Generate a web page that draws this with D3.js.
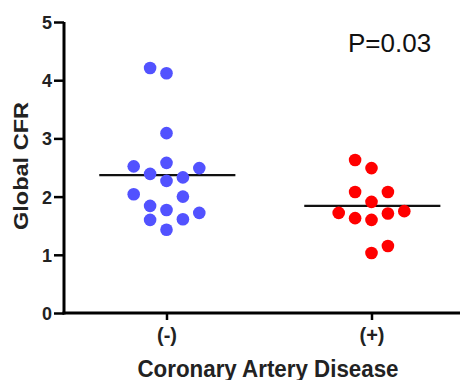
<!DOCTYPE html>
<html>
<head>
<meta charset="utf-8">
<script src="https://cdn.jsdelivr.net/npm/d3@7"></script>
<style>
  body { margin: 0; background: #fff; }
  svg { display: block; font-family: "Liberation Sans", Arial, sans-serif; }
</style>
</head>
<body>
<div id="chart"></div>
<script>
const groups = ['(-)', '(+)'];
const yTicks = [0, 1, 2, 3, 4, 5];

// Global CFR per patient, with beeswarm column slot (-2..2)
const negValues = [4.21, 4.12, 3.09, 2.52, 2.58, 2.49, 2.39, 2.27, 2.33, 2.04, 2.00, 1.84, 1.77, 1.72, 1.60, 1.61, 1.43];
const negSlots  = [-1,   0,    0,    -2,   0,    2,    -1,   0,    1,    -2,   1,    -1,   0,    2,    -1,   1,    0];
const posValues = [2.63, 2.49, 2.08, 2.08, 1.91, 1.72, 1.63, 1.60, 1.71, 1.75, 1.15, 1.03];
const posSlots  = [-1,   0,    -1,   1,    0,    -2,   -1,   0,    1,    2,    1,    0];
const means = [2.37, 1.84];
const colors = ['#5252ff', '#ff0000'];

const width = 460, height = 380;
const margin = { top: 22, left: 64, bottom: 67 };

const svg = d3.select('#chart').append('svg')
  .attr('width', width)
  .attr('height', height);

const x = d3.scalePoint()
  .domain(groups)
  .range([margin.left, 474])
  .padding(0.5);

const y = d3.scaleLinear()
  .domain([0, 5])
  .range([height - margin.bottom, margin.top]);

const slot = d3.scaleLinear().domain([0, 1]).range([0, 16.4]);

// y axis
const yAxis = svg.append('g')
  .attr('transform', `translate(${margin.left},0)`)
  .call(d3.axisLeft(y).tickValues(yTicks).tickFormat(d3.format('d')).tickSize(10).tickPadding(2));
yAxis.select('.domain')
  .style('stroke', '#000').style('stroke-width', '3px')
  .attr('d', `M0,${y(5)}V${y(0) + 1.5}`);
yAxis.selectAll('.tick line').style('stroke', '#000').style('stroke-width', '2.5px');
yAxis.selectAll('text')
  .attr('dy', '0.36em')
  .style('fill', '#222')
  .style('font-size', '18px')
  .style('font-weight', 'bold');

// x axis
const xAxis = svg.append('g')
  .attr('transform', `translate(0,${y(0)})`)
  .call(d3.axisBottom(x).tickSize(7).tickPadding(8));
xAxis.select('.domain')
  .style('stroke', '#000').style('stroke-width', '3px')
  .attr('d', `M${margin.left - 1.5},0H474`);
xAxis.selectAll('.tick line').style('stroke', '#000').style('stroke-width', '2.5px');
xAxis.selectAll('text')
  .style('fill', '#222')
  .style('font-size', '20px')
  .style('font-weight', 'bold');

// axis titles
svg.append('text')
  .attr('transform', `translate(28,166) rotate(-90)`)
  .attr('text-anchor', 'middle')
  .attr('textLength', 128)
  .attr('lengthAdjust', 'spacingAndGlyphs')
  .style('font-size', '20px')
  .style('font-weight', 'bold')
  .style('fill', '#222')
  .text('Global CFR');

svg.append('text')
  .attr('x', 268)
  .attr('y', 377)
  .attr('text-anchor', 'middle')
  .attr('textLength', 261)
  .attr('lengthAdjust', 'spacingAndGlyphs')
  .style('font-size', '23px')
  .style('font-weight', 'bold')
  .style('fill', '#222')
  .text('Coronary Artery Disease');

// mean lines
svg.selectAll('.mean')
  .data(means)
  .join('line')
  .attr('class', 'mean')
  .attr('x1', (d, i) => x(groups[i]) + slot(-4.1))
  .attr('x2', (d, i) => x(groups[i]) + slot(4.2))
  .attr('y1', d => y(d))
  .attr('y2', d => y(d))
  .attr('stroke', '#111')
  .attr('stroke-width', 2.2);

// dots
const sets = [
  { group: groups[0], values: negValues, slots: negSlots, color: colors[0] },
  { group: groups[1], values: posValues, slots: posSlots, color: colors[1] }
];
sets.forEach(s => {
  svg.append('g').selectAll('circle')
    .data(s.values)
    .join('circle')
    .attr('cx', (d, i) => x(s.group) + slot(s.slots[i]))
    .attr('cy', d => y(d))
    .attr('r', 6.3)
    .attr('fill', s.color);
});

// p value
svg.append('text')
  .attr('x', 348)
  .attr('y', 52)
  .style('font-size', '26px')
  .style('fill', '#111')
  .text('P=0.03');
</script>
</body>
</html>
